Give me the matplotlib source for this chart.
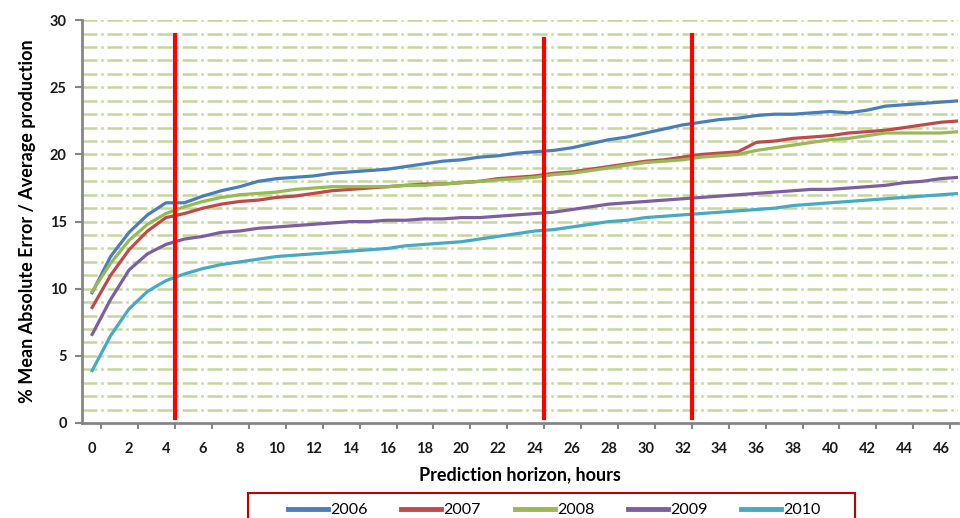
import matplotlib
matplotlib.use("Agg")
import matplotlib.pyplot as plt
from matplotlib.patches import Rectangle
from matplotlib.ticker import MultipleLocator, FixedLocator

plt.rcParams["font.family"] = ["Lato", "DejaVu Sans"]

hours = list(range(48))
years = ["2006", "2007", "2008", "2009", "2010"]

mae_2006 = [9.7, 12.4, 14.2, 15.5, 16.4, 16.4, 16.9, 17.3, 17.6, 18.0,
            18.2, 18.3, 18.4, 18.6, 18.7, 18.8, 18.9, 19.1, 19.3, 19.5,
            19.6, 19.8, 19.9, 20.1, 20.2, 20.3, 20.5, 20.8, 21.1, 21.3,
            21.6, 21.9, 22.2, 22.4, 22.6, 22.7, 22.9, 23.0, 23.0, 23.1,
            23.2, 23.1, 23.3, 23.6, 23.7, 23.8, 23.9, 24.0]
mae_2007 = [8.6, 11.0, 12.9, 14.3, 15.3, 15.6, 16.0, 16.3, 16.5, 16.6,
            16.8, 16.9, 17.1, 17.3, 17.4, 17.5, 17.6, 17.7, 17.8, 17.8,
            17.9, 18.0, 18.2, 18.3, 18.4, 18.6, 18.7, 18.9, 19.1, 19.3,
            19.5, 19.6, 19.8, 20.0, 20.1, 20.2, 20.9, 21.0, 21.2, 21.3,
            21.4, 21.6, 21.7, 21.8, 22.0, 22.2, 22.4, 22.5]
mae_2008 = [9.8, 11.9, 13.6, 14.8, 15.6, 16.1, 16.5, 16.8, 17.0, 17.1,
            17.2, 17.4, 17.5, 17.6, 17.6, 17.6, 17.6, 17.7, 17.7, 17.8,
            17.9, 18.0, 18.1, 18.2, 18.3, 18.5, 18.6, 18.8, 19.0, 19.2,
            19.4, 19.5, 19.6, 19.8, 19.9, 20.0, 20.3, 20.5, 20.7, 20.9,
            21.1, 21.2, 21.4, 21.6, 21.6, 21.6, 21.6, 21.7]
mae_2009 = [6.6, 9.2, 11.4, 12.6, 13.3, 13.7, 13.9, 14.2, 14.3, 14.5,
            14.6, 14.7, 14.8, 14.9, 15.0, 15.0, 15.1, 15.1, 15.2, 15.2,
            15.3, 15.3, 15.4, 15.5, 15.6, 15.7, 15.9, 16.1, 16.3, 16.4,
            16.5, 16.6, 16.7, 16.8, 16.9, 17.0, 17.1, 17.2, 17.3, 17.4,
            17.4, 17.5, 17.6, 17.7, 17.9, 18.0, 18.2, 18.3]
mae_2010 = [3.9, 6.5, 8.5, 9.8, 10.6, 11.1, 11.5, 11.8, 12.0, 12.2,
            12.4, 12.5, 12.6, 12.7, 12.8, 12.9, 13.0, 13.2, 13.3, 13.4,
            13.5, 13.7, 13.9, 14.1, 14.3, 14.4, 14.6, 14.8, 15.0, 15.1,
            15.3, 15.4, 15.5, 15.6, 15.7, 15.8, 15.9, 16.0, 16.2, 16.3,
            16.4, 16.5, 16.6, 16.7, 16.8, 16.9, 17.0, 17.1]

colors = ["#4a7ebb", "#be4b48", "#98b954", "#7d5fa0", "#46aac5"]

# red markers for the horizon boundaries
marker_hours = [4.5, 24.5, 32.5]
marker_tops = [28.9, 28.6, 28.9]
marker_bottom = 0.4

fig = plt.figure(figsize=(9.6, 5.18), dpi=100)
ax = fig.add_axes([0.0854, 0.1834, 0.912, 0.7776])

# dashed light-green gridlines every unit
for v in range(1, 31):
    ax.axhline(v, color="#c4d79b", lw=1.8, ls=(0, (6, 1.5, 1, 1.5)), zorder=0)

series = [mae_2006, mae_2007, mae_2008, mae_2009, mae_2010]
for vals, c, lab in zip(series, colors, years):
    ax.plot(hours, vals, color=c, lw=2.3, label=lab, zorder=3)

for h, top in zip(marker_hours, marker_tops):
    ax.plot([h, h], [marker_bottom, top], color="#ff0000", lw=3, zorder=4)

ax.set_xlim(-0.55, 46.9)
ax.set_ylim(0, 30)

ax.yaxis.set_major_locator(MultipleLocator(5))
ax.xaxis.set_major_locator(FixedLocator(list(range(0, 47, 2))))
ax.xaxis.set_minor_locator(FixedLocator([x + 0.5 for x in range(0, 47, 2)]))
ax.tick_params(axis="x", which="major", length=0, pad=14, labelsize=10.5,
               labelcolor="#1a1a1a")
ax.tick_params(axis="x", which="minor", length=4, width=1.5, color="#868686")
ax.tick_params(axis="y", length=5, width=1.5, color="#868686", labelsize=10.5,
               labelcolor="#1a1a1a", pad=6)
for lbl in ax.get_xticklabels() + ax.get_yticklabels():
    lbl.set_fontweight("bold")

for s in ["top", "right"]:
    ax.spines[s].set_visible(False)
for s in ["left", "bottom"]:
    ax.spines[s].set_color("#868686")
    ax.spines[s].set_linewidth(2)

ax.set_xlabel("Prediction horizon, hours", fontsize=13, fontweight="bold",
              labelpad=7)
ax.set_ylabel("% Mean Absolute Error / Average production", fontsize=13,
              fontweight="bold", labelpad=10)

# legend box runs off the bottom edge
fig.patches.append(Rectangle((248 / 960, -0.02), (855 - 248) / 960,
                             0.02 + 25 / 518, transform=fig.transFigure,
                             fill=False, edgecolor="#c00000", lw=1.5))
leg = fig.legend(loc="center left", bbox_to_anchor=(288 / 960, 1 - 510 / 518),
                 ncol=5, fontsize=11.5, handlelength=2.5, handletextpad=0.15,
                 columnspacing=2.1, frameon=False, borderpad=0,
                 borderaxespad=0)
for line in leg.get_lines():
    line.set_linewidth(3.5)

plt.savefig("out.png", dpi=100)
